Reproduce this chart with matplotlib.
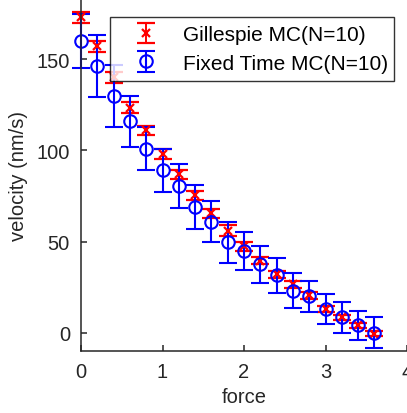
import matplotlib
matplotlib.use("Agg")
import matplotlib.pyplot as plt
import numpy as np

plt.rcParams['font.family'] = ['Liberation Sans', 'DejaVu Sans']

# data
force = np.round(np.arange(0, 3.61, 0.2), 1)
gillespie_v = [173, 157, 140, 123.5, 111, 98, 87, 75.5, 65.5, 56, 47.5, 39.5, 32, 26.5, 20.5, 13, 8.5, 4, -0.5]
gillespie_err = [3, 3, 3, 3, 2.5, 2.5, 2.5, 2.5, 2.5, 3, 2.5, 2, 2, 2, 2, 1.5, 1.5, 1.5, 1.5]
fixed_v = [160, 146, 130, 116, 101, 89, 80.5, 69, 61, 49.5, 45, 37.5, 31.5, 23, 20, 13, 8.5, 4, 0]
fixed_err = [15, 17, 17, 14, 12, 12, 12, 12, 11.5, 11, 10.5, 10, 9.5, 9.5, 8.5, 8, 8.5, 8, 8.5]

xticks = [0, 1, 2, 3, 4]
yticks = [0, 50, 100, 150]

fig = plt.figure(figsize=(4.07, 4.14), dpi=100)
ax = fig.add_axes([81/407, 62/414, 326/407, 352/414])

eb1 = ax.errorbar(force, gillespie_v, yerr=gillespie_err, fmt='x', color='#ff0000',
                  markersize=6, markeredgewidth=1.6, elinewidth=1.4, capsize=6.5, capthick=1.4,
                  label='Gillespie MC(N=10)')
eb2 = ax.errorbar(force, fixed_v, yerr=fixed_err, fmt='o', color='#0000ff', mfc='none',
                  markersize=9, markeredgewidth=1.5, elinewidth=1.5, capsize=6.5, capthick=1.5,
                  label='Fixed Time MC(N=10)')
for eb in (eb1, eb2):
    for art in eb.get_children():
        art.set_clip_on(False)

ax.set_xlim(0, 4)
ax.set_ylim(-10, 183)
ax.set_xticks(xticks)
ax.set_yticks(yticks)

txt = '#262626'
for side in ['top', 'right']:
    ax.spines[side].set_visible(False)
for side in ['left', 'bottom']:
    ax.spines[side].set_color(txt)
    ax.spines[side].set_linewidth(1.1)
ax.tick_params(direction='in', length=4, width=1.1, color=txt, labelcolor=txt,
               labelsize=14.5, pad=8)

ax.set_xlabel('force', fontsize=14.5, color=txt, labelpad=4)
ax.set_ylabel('velocity (nm/s)', fontsize=14.5, color=txt, labelpad=6)

x0, x1 = 110/407, 394/407
ytop = (414-18)/414
leg = ax.legend(loc='upper left', bbox_to_anchor=(x0, ytop - 0.2, x1 - x0, 0.2),
                bbox_transform=fig.transFigure, mode='expand', fontsize=15, frameon=True,
                fancybox=False, edgecolor='black', handlelength=2.7,
                handletextpad=0.4, borderpad=0.4, labelspacing=0.45, borderaxespad=0)
leg.get_frame().set_linewidth(1.0)
for t in leg.get_texts():
    t.set_color('black')

fig.savefig('out.png', dpi=100)
